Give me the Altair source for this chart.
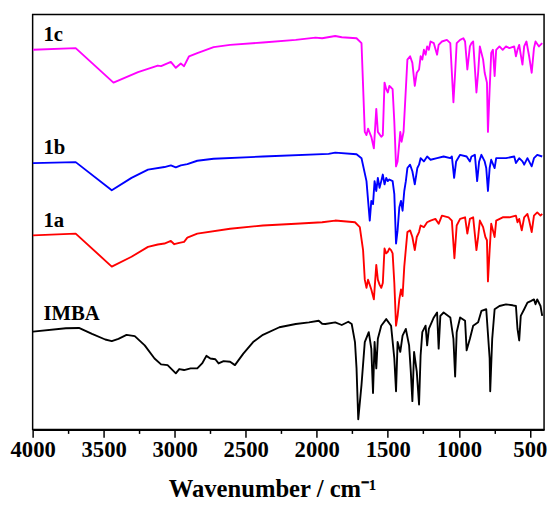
import altair as alt
import pandas as pd

# ---- data (wavenumber in cm-1, transmittance in arbitrary offset units) ----
wn_1c = [3998, 3697, 3431, 3258, 3119, 3096, 3027, 2992, 2957, 2934, 2899, 2841, 2726, 2610, 2379, 2148, 2009, 1962, 1870,
         1824, 1720, 1685, 1662, 1650, 1639, 1616, 1598, 1581, 1570, 1546, 1535, 1523, 1511, 1500, 1489, 1477, 1466, 1454,
         1442, 1431, 1412, 1403, 1389, 1373, 1362, 1343, 1327, 1310, 1296, 1280, 1269, 1257, 1246, 1234, 1223, 1211, 1199,
         1176, 1153, 1142, 1119, 1084, 1060, 1038, 1026, 1015, 991, 968, 956, 940, 922, 911, 899, 876, 864, 852, 829, 818,
         802, 795, 783, 772, 760, 748, 737, 714, 691, 668, 644, 610, 598, 587, 575, 564, 552, 540, 524, 505, 487, 471, 460,
         436, 413]
t_1c = [385.3, 387, 352, 362.7, 369.3, 368.7, 373, 367, 371.3, 368.7, 378.7, 382, 388, 390.3, 392.7, 395.3, 397.7, 397, 399.3,
        398, 397, 392, 302, 298.7, 305.3, 297, 285.3, 325.3, 302, 297, 298.7, 352, 345.3, 342, 348.7, 347, 345.3, 312,
        267, 272, 302, 292, 302, 345.3, 375.3, 378.7, 372, 348.7, 362, 365.3, 378.7, 375.3, 385.3, 380.3, 388.7, 385.3, 393.7,
        392, 380.3, 390.3, 393.7, 395.3, 392, 332, 362, 392, 395.3, 397, 393.7, 365.3, 388.7, 392, 393.7, 342, 362, 388.7, 375.3, 362,
        352, 302, 345.3, 382, 385.3, 358.7, 385.3, 388.7, 385.3, 388.7, 387, 388.7, 378.7, 385.3, 390.3, 380.3, 370.3, 388.7, 393.7, 378.7, 362, 387, 393.7,
        388.7, 392]

wn_1b = [3998, 3697, 3443, 3304, 3188, 3072, 3027, 2992, 2957, 2911, 2841, 2726, 2379, 1917, 1870,
         1720, 1685, 1650, 1627, 1616, 1604, 1593, 1581, 1570, 1558, 1546, 1535, 1523, 1511, 1500, 1489, 1466, 1454,
         1442, 1431, 1419, 1407, 1396, 1384, 1373, 1362, 1343, 1327, 1310, 1292, 1280, 1269, 1246, 1223, 1199, 1153,
         1107, 1060, 1049, 1033, 1019, 991, 945, 922, 911, 887, 871, 857, 841, 818, 807, 795, 783, 772, 748, 737, 668,
         610, 598, 575, 552, 540, 517, 487, 471, 448, 413]
t_1b = [270.3, 271.3, 242.7, 255.3, 263.7, 266.3, 268, 266, 268, 269.3, 272.7, 274.7, 277, 279.7, 281,
        279.3, 275.3, 252, 212, 232, 228.7, 252, 242, 255.3, 245.3, 252, 258.7, 248.7, 255.3, 252, 253.7, 252, 238.7,
        188.7, 202, 225.3, 232, 222, 242, 252, 265.3, 268.7, 262, 248.7, 265.3, 268.7, 275.3, 272, 277, 273.7, 275.3,
        277, 275.3, 277, 255.3, 272, 278.7, 277, 272, 277, 278.7, 252, 272, 278.7, 272, 265.3, 242, 265.3, 273.7, 265.3, 275.3, 275.3,
        277, 270.3, 275.3, 272, 268.7, 275.3, 267, 275.3, 278.7, 277]

wn_1a = [3998, 3697, 3443, 3304, 3188, 3119, 3072, 3027, 3003, 2968, 2934, 2911, 2841, 2610, 2379, 2148, 1962, 1870,
         1731, 1697, 1674, 1662, 1650, 1639, 1616, 1598, 1581, 1570, 1558, 1546, 1535, 1523, 1511, 1500, 1489, 1477, 1466,
         1454, 1442, 1431, 1419, 1407, 1396, 1384, 1362, 1343, 1327, 1310, 1296, 1280, 1269, 1246, 1223, 1199, 1165, 1142,
         1119, 1072, 1049, 1031, 1015, 991, 956, 940, 922, 899, 876, 864, 852, 829, 813, 802, 795, 783, 772, 748, 737, 691,
         644, 598, 587, 575, 557, 540, 517, 505, 487, 471, 448, 425, 413]
t_1a = [197, 198.7, 165.3, 175.3, 185.3, 187.7, 188.7, 191.3, 188, 189.3, 190.3, 194.7, 198.7, 203.7, 207, 208.7, 210.3, 212,
        210.3, 205.3, 182, 152, 143.7, 152, 142, 132, 167, 152, 147, 143.7, 148.7, 183.7, 178.7, 180.3, 183.7, 182, 178.7,
        148.7, 105.3, 115.3, 132, 142, 135.3, 165.3, 200.3, 202, 195.3, 182, 195.3, 200.3, 207, 205.3, 210.3, 212, 213.7, 208.7,
        217, 215.3, 212, 173.7, 207, 213.7, 215.3, 198.7, 213.7, 215.3, 182, 195.3, 212, 205.3, 195.3, 192, 150.3, 182, 208.7, 195.3, 212, 215.3,
        215.3, 217, 210.3, 213.7, 202, 215.3, 218.7, 212, 200.3, 217, 220.3, 217, 218.7]

wn_imba = [3998, 3766, 3674, 3582, 3489, 3443, 3396, 3339, 3281, 3211, 3142, 3096, 3050, 2992, 2968, 2934, 2888, 2841,
           2807, 2777, 2749, 2714, 2691, 2656, 2610, 2576, 2517, 2448, 2379, 2263, 2148, 2055, 1986, 1962, 1940, 1870,
           1824, 1778, 1754, 1731, 1720, 1708, 1697, 1685, 1662, 1634, 1616, 1604, 1593, 1581, 1570, 1546, 1511, 1477,
           1454, 1442, 1431, 1412, 1396, 1373, 1350, 1338, 1327, 1315, 1296, 1280, 1269, 1257, 1234, 1223, 1211, 1176,
           1153, 1142, 1130, 1107, 1060, 1038, 1026, 1015, 991, 956, 945, 922, 899, 864, 841, 807, 783, 779, 765, 748,
           714, 668, 621, 598, 587, 575, 564, 540, 517, 494, 471, 460, 448, 425, 413]
t_imba = [99.3, 102.7, 103, 97, 91.3, 89.7, 92, 96, 94.7, 85.3, 72, 66, 65.3, 57, 61.3, 60.3, 62, 62,
          67, 74.7, 72, 71.3, 67, 69.3, 68.7, 65.3, 77, 88.7, 96, 103.7, 107, 108.7, 110.3, 107.3, 107, 108.7,
          106, 109.3, 107, 88.7, 62, 10.3, 27, 45.3, 88.7, 98.7, 82, 37, 88.7, 62, 92, 105.3, 112, 105.3,
          72, 38.7, 88.7, 78.7, 95.3, 102, 85.3, 58.7, 28.7, 78.7, 58.7, 25.3, 75.3, 98.7, 105.3, 85.3, 102, 113.7,
          118.7, 82, 115.3, 118.7, 113.7, 92, 53.7, 98.7, 113.7, 110.3, 80.3, 92, 105.3, 108.7, 120.3, 122, 72, 38.7, 92, 122,
          125.3, 127, 126, 125.3, 102, 90.3, 115.3, 122, 128.7, 130.3, 132, 127, 132, 125.3, 115.3]

series_names = ["IMBA", "1a", "1b", "1c"]
series_colors = ["#000000", "#FF0000", "#0000FF", "#FF00FF"]
label_wn = [3924, 3924, 3924, 3924]
label_t = [117, 211, 286, 400]

major_ticks = [4000, 3500, 3000, 2500, 2000, 1500, 1000, 500]
minor_ticks = [3750, 3250, 2750, 2250, 1750, 1250, 750]

# ---- build tables ----
rows = []
for name, wn, t in [("1c", wn_1c, t_1c), ("1b", wn_1b, t_1b), ("1a", wn_1a, t_1a), ("IMBA", wn_imba, t_imba)]:
    for i, (w, v) in enumerate(zip(wn, t)):
        rows.append({"series": name, "wn": w, "T": v, "order": i})
df = pd.DataFrame(rows)
labels = pd.DataFrame({"series": series_names, "wn": label_wn, "T": label_t})

FONT = "Liberation Serif"
xscale = alt.Scale(domain=[4000, 400], nice=False, zero=False)
yscale = alt.Scale(domain=[0, 421], nice=False, zero=False)
cscale = alt.Scale(domain=series_names, range=series_colors)

lines = alt.Chart(df).mark_line(strokeWidth=1.9, strokeJoin="round").encode(
    x=alt.X("wn:Q", scale=xscale,
            axis=alt.Axis(orient="bottom", values=major_ticks, format="d", tickSize=8, tickWidth=1.5,
                          domainWidth=2, domainColor="black", tickColor="black", labelFont=FONT,
                          labelFontSize=23, labelFontWeight="bold", labelColor="black", labelPadding=1,
                          labelFlush=False, labelOverlap=False, grid=False,
                          title="Wavenumber / cm\u207b\u00b9", titleFont=FONT, titleFontSize=25,
                          titleFontWeight="bold", titleColor="black", titlePadding=16,
                          titleX=243, titleAlign="center", titleAnchor="middle")),
    y=alt.Y("T:Q", scale=yscale, axis=None),
    color=alt.Color("series:N", scale=cscale, legend=None),
    order="order:Q",
)

minor = alt.Chart(df).mark_line(opacity=0).encode(
    x=alt.X("wn:Q", scale=xscale,
            axis=alt.Axis(orient="bottom", values=minor_ticks, tickSize=4, tickWidth=1.5, tickColor="black",
                          labels=False, domain=False, grid=False, title=None)),
    y=alt.Y("T:Q", scale=yscale, axis=None),
    detail="series:N",
)

text = alt.Chart(labels).mark_text(align="left", baseline="middle", font=FONT, fontSize=21,
                                   fontWeight="bold", color="black").encode(
    x=alt.X("wn:Q", scale=xscale, axis=None),
    y=alt.Y("T:Q", scale=yscale, axis=None),
    text="series:N",
)

chart = alt.layer(lines, minor, text).resolve_axis(x="independent").properties(
    width=519, height=421,
    autosize=alt.AutoSizeParams(type="none"),
    padding={"left": 25, "top": 3, "right": 4, "bottom": 76},
    background="white",
).configure_view(stroke="black", strokeWidth=1.5)

chart.save("out.html", embed_options={"renderer": "svg", "actions": False})
